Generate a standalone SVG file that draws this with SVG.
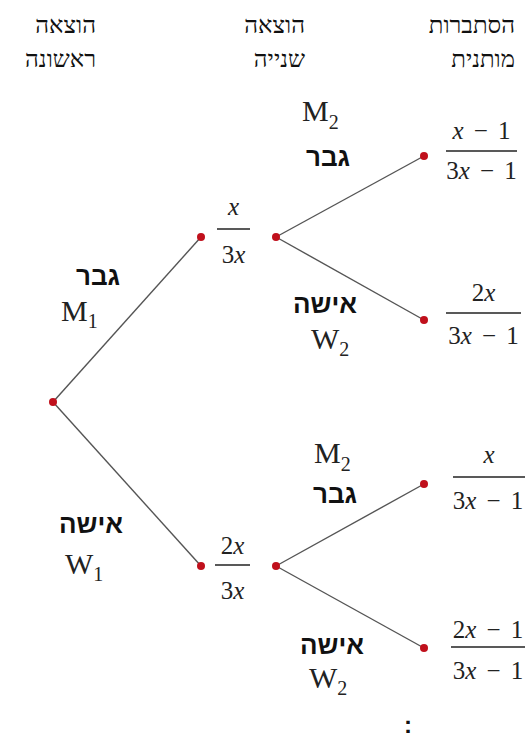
<svg xmlns="http://www.w3.org/2000/svg" width="526" height="740" viewBox="0 0 526 740">
<style>
.hdr{font-family:"Liberation Serif","DejaVu Serif",serif;font-size:24px;fill:#111;text-anchor:end}
.lbl{font-family:"Liberation Sans","DejaVu Sans",sans-serif;font-size:26px;font-weight:bold;fill:#111;text-anchor:end}
.math{font-family:"Liberation Serif","DejaVu Serif",serif;font-size:25px;fill:#222;text-anchor:middle}
.var{font-family:"Liberation Serif","DejaVu Serif",serif;font-size:30px;fill:#222}
.sub{font-size:20px}
.it{font-style:italic}
.bar{stroke:#222;stroke-width:1.4}
.edge{stroke:#555;stroke-width:1.4;fill:none}
.dot{fill:#c0101c}
</style>
<rect width="526" height="740" fill="#fff"/>
<g id="headers">
<text class="hdr" x="96" y="33">הוצאה</text>
<text class="hdr" x="96" y="67">ראשונה</text>
<text class="hdr" x="305" y="33">הוצאה</text>
<text class="hdr" x="305" y="67">שנייה</text>
<text class="hdr" x="515" y="33">הסתברות</text>
<text class="hdr" x="515" y="67">מותנית</text>
</g>
<g id="connectors">
<line class="edge" x1="53" y1="402" x2="201" y2="237"/>
<line class="edge" x1="53" y1="402" x2="201" y2="566"/>
<line class="edge" x1="276" y1="237" x2="424" y2="156"/>
<line class="edge" x1="276" y1="237" x2="424" y2="320"/>
<line class="edge" x1="276" y1="566" x2="424" y2="484"/>
<line class="edge" x1="276" y1="566" x2="424" y2="648"/>
</g>
<g id="root"><circle class="dot" cx="53" cy="402" r="4"/></g>
<g id="label-m1">
<text class="lbl" x="120" y="285">גבר</text>
<text class="var" x="61" y="321">M<tspan class="sub" dy="7">1</tspan></text>
</g>
<g id="label-w1">
<text class="lbl" x="123" y="533">אישה</text>
<text class="var" x="65" y="574">W<tspan class="sub" dy="7">1</tspan></text>
</g>
<g id="node-m1">
<circle class="dot" cx="201" cy="237" r="4"/>
<text class="math it" x="233.5" y="215">x</text>
<line class="bar" x1="217" y1="229" x2="250" y2="229"/>
<text class="math" x="233.5" y="263">3<tspan class="it">x</tspan></text>
<circle class="dot" cx="276" cy="237" r="4"/>
</g>
<g id="node-w1">
<circle class="dot" cx="201" cy="566" r="4"/>
<text class="math" x="232.5" y="554">2<tspan class="it">x</tspan></text>
<line class="bar" x1="215" y1="565" x2="250" y2="565"/>
<text class="math" x="232.5" y="599">3<tspan class="it">x</tspan></text>
<circle class="dot" cx="276" cy="566" r="4"/>
</g>
<g id="label-m2-top">
<text class="var" x="302" y="121">M<tspan class="sub" dy="8">2</tspan></text>
<text class="lbl" x="350" y="166">גבר</text>
</g>
<g id="label-w2-top">
<text class="lbl" x="357" y="313">אישה</text>
<text class="var" x="311" y="349">W<tspan class="sub" dy="7">2</tspan></text>
</g>
<g id="label-m2-bottom">
<text class="var" x="314" y="463">M<tspan class="sub" dy="8">2</tspan></text>
<text class="lbl" x="357" y="503">גבר</text>
</g>
<g id="label-w2-bottom">
<text class="lbl" x="364" y="654">אישה</text>
<text class="var" x="309" y="688">W<tspan class="sub" dy="7">2</tspan></text>
</g>
<g id="leaf-mm">
<circle class="dot" cx="424" cy="156" r="4"/>
<text class="math" x="481.5" y="139"><tspan class="it">x</tspan><tspan dx="4">&#160;−&#160;</tspan><tspan dx="4">1</tspan></text>
<line class="bar" x1="446" y1="151" x2="517" y2="151"/>
<text class="math" x="481.5" y="179">3<tspan class="it">x</tspan><tspan dx="4">&#160;−&#160;</tspan><tspan dx="4">1</tspan></text>
</g>
<g id="leaf-mw">
<circle class="dot" cx="424" cy="320" r="4"/>
<text class="math" x="483.5" y="301">2<tspan class="it">x</tspan></text>
<line class="bar" x1="446" y1="313" x2="521" y2="313"/>
<text class="math" x="483.5" y="344">3<tspan class="it">x</tspan><tspan dx="4">&#160;−&#160;</tspan><tspan dx="4">1</tspan></text>
</g>
<g id="leaf-wm">
<circle class="dot" cx="424" cy="484" r="4"/>
<text class="math it" x="489" y="463">x</text>
<line class="bar" x1="453" y1="477" x2="525" y2="477"/>
<text class="math" x="488" y="509">3<tspan class="it">x</tspan><tspan dx="4">&#160;−&#160;</tspan><tspan dx="4">1</tspan></text>
</g>
<g id="leaf-ww">
<circle class="dot" cx="424" cy="648" r="4"/>
<text class="math" x="488" y="638">2<tspan class="it">x</tspan><tspan dx="4">&#160;−&#160;</tspan><tspan dx="4">1</tspan></text>
<line class="bar" x1="451" y1="647" x2="525" y2="647"/>
<text class="math" x="488" y="679">3<tspan class="it">x</tspan><tspan dx="4">&#160;−&#160;</tspan><tspan dx="4">1</tspan></text>
</g>
<g id="colon">
<text x="408" y="733" font-family="Liberation Sans, sans-serif" font-size="24" font-weight="bold" text-anchor="middle" fill="#111">:</text>
</g>
</svg>
